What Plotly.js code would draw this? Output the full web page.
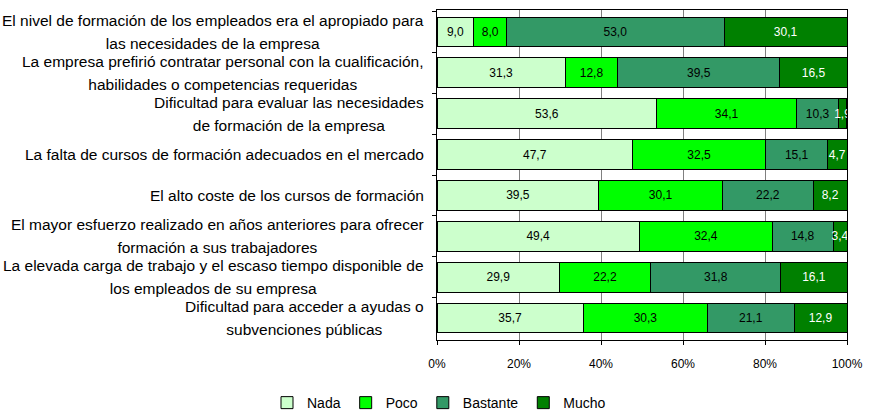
<!DOCTYPE html>
<html>
<head>
<meta charset="utf-8">
<script src="https://cdn.plot.ly/plotly-3.0.1.min.js"></script>
<style>
html,body{margin:0;padding:0;background:#fff;}
#chart{width:878px;height:414px;}
</style>
</head>
<body>
<div id="chart"></div>
<script>
const categories = [
  "El nivel de formación de los empleados era el apropiado para<br>las necesidades de la empresa",
  "La empresa prefirió contratar personal con la cualificación,<br>habilidades o competencias requeridas",
  "Dificultad para evaluar las necesidades<br>de formación de la empresa",
  "La falta de cursos de formación adecuados en el mercado",
  "El alto coste de los cursos de formación",
  "El mayor esfuerzo realizado en años anteriores para ofrecer<br>formación a sus trabajadores",
  "La elevada carga de trabajo y el escaso tiempo disponible de<br>los empleados de su empresa",
  "Dificultad para acceder a ayudas o<br>subvenciones públicas"
];
const seriesNames = ["Nada", "Poco", "Bastante", "Mucho"];
const nada     = [9.0, 31.3, 53.6, 47.7, 39.5, 49.4, 29.9, 35.7];
const poco     = [8.0, 12.8, 34.1, 32.5, 30.1, 32.4, 22.2, 30.3];
const bastante = [53.0, 39.5, 10.3, 15.1, 22.2, 14.8, 31.8, 21.1];
const mucho    = [30.1, 16.5, 1.9, 4.7, 8.2, 3.4, 16.1, 12.9];
const xTicks   = [0, 20, 40, 60, 80, 100];

const colors = ["#CCFFCC", "#00FF00", "#339966", "#008000"];
const textColors = ["#000000", "#000000", "#000000", "#FFFFFF"];
const FONT = "Liberation Sans, Arial, sans-serif";

const allSeries = [nada, poco, bastante, mucho];
const traces = allSeries.map((vals, i) => ({
  type: "bar",
  orientation: "h",
  name: seriesNames[i],
  y: categories,
  x: vals,
  marker: {color: colors[i], line: {color: "#000000", width: 1}},
  texttemplate: "%{x:.1f}",
  textposition: "inside",
  insidetextanchor: "middle",
  constraintext: "none",
  textangle: 0,
  textfont: {family: FONT, size: 12, color: textColors[i]},
  hoverinfo: "skip"
}));

const annotations = categories.map(c => ({
  xref: "paper", yref: "y",
  x: 0, y: c,
  xanchor: "right", yanchor: "middle",
  xshift: -11,
  align: "center",
  showarrow: false,
  text: c.split("<br>").map(s => '<span style="font-size:15.5px">' + s + '</span>').join("<br>"),
  font: {family: FONT, size: 18, color: "#000000"}
}));

const layout = {
  width: 878, height: 414,
  margin: {l: 437, r: 31, t: 10, b: 74, autoexpand: false},
  paper_bgcolor: "#ffffff",
  plot_bgcolor: "#ffffff",
  separators: ",.",
  barmode: "stack",
  bargap: 0.27,
  font: {family: FONT, size: 12, color: "#000000"},
  showlegend: true,
  legend: {
    orientation: "h",
    xref: "container", yref: "paper",
    x: 0.5, xanchor: "center",
    y: -0.191, yanchor: "middle",
    font: {family: FONT, size: 14, color: "#000000"},
    traceorder: "normal",
    itemwidth: 30
  },
  xaxis: {
    range: [0, 100],
    tickvals: xTicks,
    ticktext: xTicks.map(v => v + "%"),
    showgrid: true, gridcolor: "#808080", gridwidth: 1,
    zeroline: false,
    ticks: "outside", ticklen: 4, tickcolor: "#000000",
    ticklabelstandoff: 9,
    showline: true, linecolor: "#000000", linewidth: 1, mirror: true,
    tickfont: {family: FONT, size: 12, color: "#000000"},
    fixedrange: true
  },
  yaxis: {
    type: "category",
    categoryorder: "array",
    categoryarray: categories,
    autorange: "reversed",
    showticklabels: false,
    ticks: "outside", ticklen: 4, tickcolor: "#000000",
    tickson: "boundaries",
    showgrid: false, zeroline: false,
    showline: true, linecolor: "#000000", linewidth: 1, mirror: true,
    fixedrange: true
  },
  annotations: annotations
};

Plotly.newPlot("chart", traces, layout, {displayModeBar: false, staticPlot: true});
</script>
</body>
</html>
